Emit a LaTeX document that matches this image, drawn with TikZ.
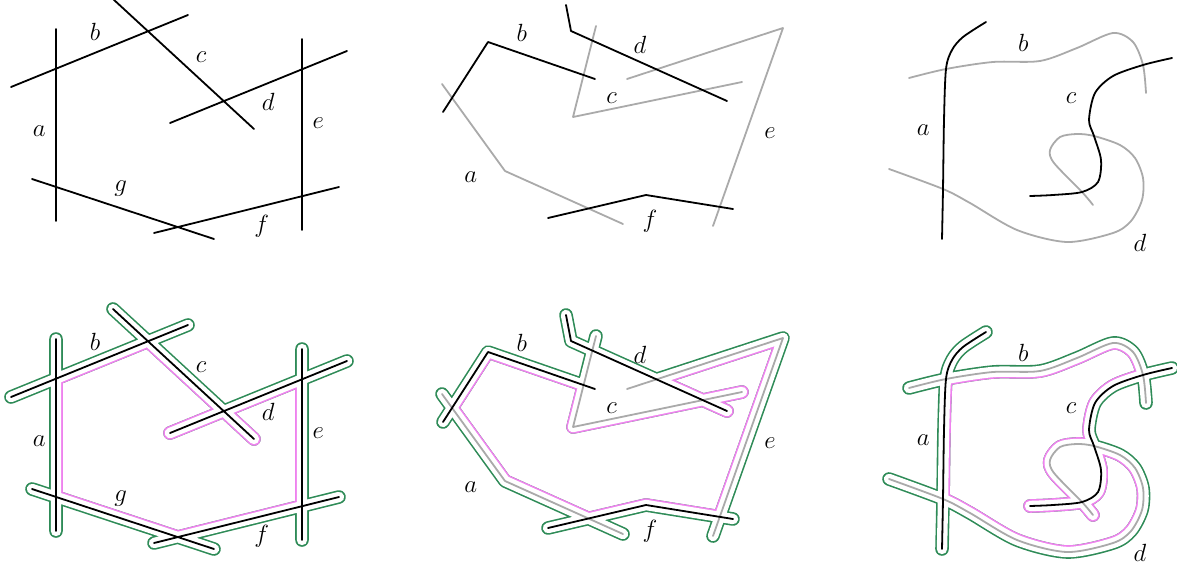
\documentclass[tikz,border=0pt]{standalone}
\definecolor{outerGreen}{RGB}{46,139,87}
\definecolor{innerPink}{RGB}{238,130,238}
\definecolor{segGray}{RGB}{170,170,170}
% panel 1 (straight segments)
\def\PAa{(56,29)--(56,221)}
\def\PAb{(11,87)--(188,15)}
\def\PAc{(113,-1)--(254,129)}
\def\PAd{(170,123)--(347,51)}
\def\PAe{(302,39)--(302,230)}
\def\PAf{(154,233)--(339,187)}
\def\PAg{(32,179)--(214,239)}
\def\PAall{\PAa \PAb \PAc \PAd \PAe \PAf \PAg}
% panel 2 (polylines)
\def\PBa{(442,84)--(505,171)--(623,224)}
\def\PBb{(443,112)--(488,42)--(595,79)}
\def\PBc{(596,26)--(573,117)--(742,82)}
\def\PBd{(566,5)--(571,31)--(727,101)}
\def\PBe{(627,79)--(783,28)--(713,226)}
\def\PBf{(548,218)--(646,195)--(733,209)}
\def\PBall{\PBa \PBb \PBc \PBd \PBe \PBf}
% panel 3 (curves)
\def\PCa{plot[smooth] coordinates {(942,239) (943,189) (944,120) (946,69) (952,50) (963,37) (986,22)}}
\def\PCb{plot[smooth] coordinates {(909,78) (946,69) (993,62) (1040,61) (1077,48) (1113,33) (1133,42) (1143,65) (1146,93)}}
\def\PCc{plot[smooth] coordinates {(1172,58) (1143,65) (1113,76) (1095,93) (1089,120) (1094,136) (1101,160) (1098,182) (1082,192) (1053,195) (1030,196)}}
\def\PCd{plot[smooth] coordinates {(889,169) (943,189) (970,203) (1017,230) (1067,242) (1113,233) (1131,221) (1142,200) (1143,178) (1135,158) (1120,145) (1094,136) (1077,134) (1060,137) (1050,150) (1054,163) (1082,192) (1093,205)}}
\def\PCall{\PCa \PCb \PCc \PCd}
\begin{document}
\begin{tikzpicture}[x=1pt,y=-1pt,
  line cap=round, line join=round,
  blk/.style={draw=black, line width=1.8pt},
  gry/.style={draw=segGray, line width=1.8pt},
  bandout/.style={draw=outerGreen, line width=13.6pt},
  bandin/.style={draw=innerPink, line width=13.6pt},
  bandhole/.style={draw=white, line width=10.4pt},
  lab/.style={inner sep=0pt, font=\fontsize{24.88}{30}\selectfont},
]
\useasboundingbox (0,0) rectangle (1177,567);

% ================= TOP ROW =================
\draw[blk] \PAall;
\node[lab] (t1a) at (39.3,130.7) {$a$};
\node[lab] (t1b) at (95,31.7) {$b$};
\node[lab] (t1c) at (201,57.3) {$c$};
\node[lab] (t1d) at (268.3,101.7) {$d$};
\node[lab] (t1e) at (318.3,123.3) {$e$};
\node[lab] (t1f) at (261.7,226.7) {$f$};
\node[lab] (t1g) at (120.7,188.3) {$g$};

\draw[gry] \PBa \PBc \PBe;
\draw[blk] \PBb \PBd \PBf;
\node[lab] (t2a) at (470.7,176.7) {$a$};
\node[lab] (t2b) at (521.7,33.3) {$b$};
\node[lab] (t2c) at (611.7,98.3) {$c$};
\node[lab] (t2d) at (640,45) {$d$};
\node[lab] (t2e) at (770,133.3) {$e$};
\node[lab] (t2f) at (650,221.7) {$f$};

\draw[gry] \PCb \PCd;
\draw[blk] \PCa \PCc;
\node[lab] (t3a) at (923.3,130) {$a$};
\node[lab] (t3b) at (1023.3,43.3) {$b$};
\node[lab] (t3c) at (1071,98.3) {$c$};
\node[lab] (t3d) at (1140,243.3) {$d$};

% ================= BOTTOM ROW =================
\begin{scope}[shift={(0,310)}]
  % panel 1
  \draw[bandout] \PAall;
  \draw[bandhole] \PAall;
  \begin{scope}
    \clip (56,68.7) -- (148,31.3) -- (223.8,101.2) -- (302,69.3) -- (302,196.2) -- (177.8,227.1) -- (56,186.9) -- cycle;
    \draw[bandin] \PAall;
    \draw[bandhole] \PAall;
  \end{scope}
  \draw[blk] \PAall;
  \node[lab] (b1a) at (39.3,130.7) {$a$};
  \node[lab] (b1b) at (95,31.7) {$b$};
  \node[lab] (b1c) at (201,57.3) {$c$};
  \node[lab] (b1d) at (268.3,101.7) {$d$};
  \node[lab] (b1e) at (318.3,123.3) {$e$};
  \node[lab] (b1f) at (261.7,226.7) {$f$};
  \node[lab] (b1g) at (120.7,188.3) {$g$};

  % panel 2
  \draw[bandout] \PBall;
  \draw[bandhole] \PBall;
  \begin{scope}
    \clip (452.1,97.9) -- (488,42) -- (583.5,75.2) -- (573,117) -- (702.8,90.1) -- (656.5,69.4) -- (783,28) -- (719.7,206.9) -- (646,195) -- (588.4,208.5) -- (505,171) -- cycle;
    \draw[bandin] \PBall;
    \draw[bandhole] \PBall;
  \end{scope}
  \fill[white] (592.3,40.6) -- (573,117) -- (702.8,90.1) -- cycle;
  \draw[gry] \PBa \PBc \PBe;
  \draw[blk] \PBb \PBd \PBf;
  \node[lab] (b2a) at (470.7,176.7) {$a$};
  \node[lab] (b2b) at (521.7,33.3) {$b$};
  \node[lab] (b2c) at (611.7,98.3) {$c$};
  \node[lab] (b2d) at (640,45) {$d$};
  \node[lab] (b2e) at (770,133.3) {$e$};
  \node[lab] (b2f) at (650,221.7) {$f$};

  % panel 3
  \draw[bandout] \PCall;
  \draw[bandhole] \PCall;
  \begin{scope}
    \clip plot[smooth] coordinates {(946,69) (993,62) (1040,61) (1077,48) (1113,33) (1133,42) (1143,65)}
      -- plot[smooth] coordinates {(1143,65) (1113,76) (1095,93) (1089,120) (1094,136)}
      -- plot[smooth] coordinates {(1094,136) (1120,145) (1135,158) (1143,178) (1142,200) (1131,221) (1113,233) (1067,242) (1017,230) (970,203) (943,189)}
      -- plot[smooth] coordinates {(943,189) (944,120) (946,69)} -- cycle;
    \draw[bandin] \PCall;
    \draw[bandhole] \PCall;
  \end{scope}
  \fill[white] plot[smooth] coordinates {(1094,136) (1077,134) (1060,137) (1050,150) (1054,163) (1082,192)}
      -- plot[smooth] coordinates {(1082,192) (1098,182) (1101,160) (1094,136)} -- cycle;
  \draw[gry] \PCb \PCd;
  \draw[blk] \PCa \PCc;
  \node[lab] (b3a) at (923.3,130) {$a$};
  \node[lab] (b3b) at (1023.3,43.3) {$b$};
  \node[lab] (b3c) at (1071,98.3) {$c$};
  \node[lab] (b3d) at (1140,243.3) {$d$};
\end{scope}
\end{tikzpicture}
\end{document}
